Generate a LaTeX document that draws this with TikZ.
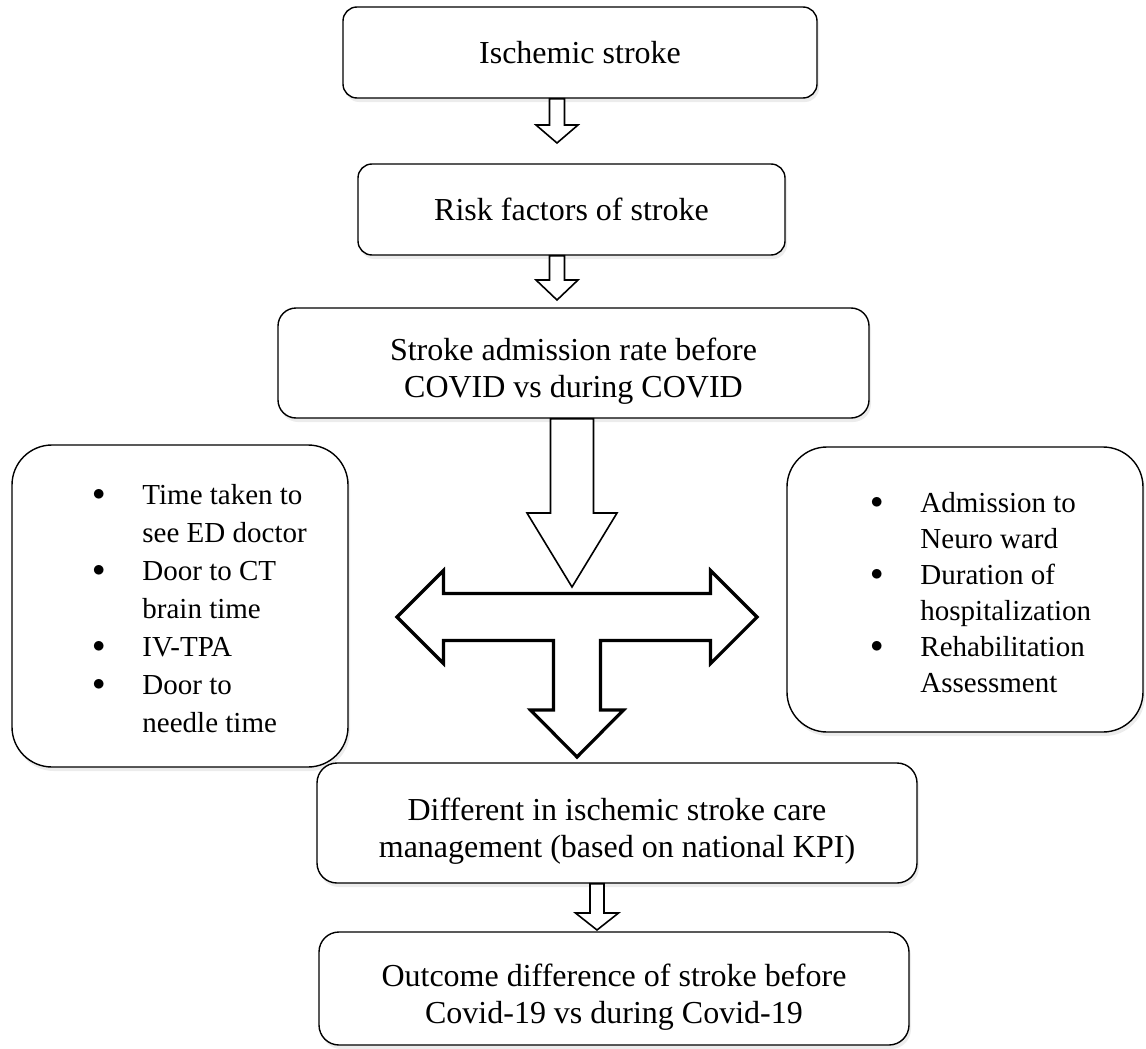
\documentclass[tikz,border=0pt]{standalone}
\usepackage{fontspec}
\setmainfont{Liberation Serif}
\usetikzlibrary{calc,shadows}

\newcommand{\bul}{\raisebox{4pt}{$\bullet$}}
% block arrow pointing down: top point, tip, shaft half width, head half width, head length
\newcommand{\blockdown}[5]{%
  \draw[arrowline] let \p1=(#1), \p2=(#2) in
    (\x1-#3,\y1) -- (\x1+#3,\y1) -- (\x1+#3,\y2+#5) -- (\x1+#4,\y2+#5)
    -- (\x2,\y2) -- (\x1-#4,\y2+#5) -- (\x1-#3,\y2+#5) -- cycle;}

\begin{document}
\begin{tikzpicture}[x=1pt,y=-1pt,
  box/.style={draw,fill=white,line width=1.4pt,rounded corners=14pt,align=center,
    font=\fontsize{32}{37}\selectfont,
    drop shadow={opacity=0.15,shadow xshift=2pt,shadow yshift=-4pt}},
  twoline/.style={box,rounded corners=20pt,text height=76pt},
  listbox/.style={box,rounded corners=40pt},
  listtext/.style={anchor=west,inner sep=0pt,font=\fontsize{29}{38}\selectfont},
  arrowline/.style={draw,fill=white,line width=1.6pt}]
\useasboundingbox (0,0) rectangle (1146,1049);

\node[box,minimum width=474pt,minimum height=91pt] (isch) at (580,52.5) {Ischemic stroke};
\node[box,minimum width=427pt,minimum height=91pt] (risk) at (571.5,209.5) {Risk factors of stroke};
\node[twoline,rounded corners=18pt,minimum width=591pt,minimum height=110pt] (admit) at (573.5,363)
  {Stroke admission rate before\\COVID vs during COVID};

\node[listbox,minimum width=336pt,minimum height=322pt] (edbox) at (180,606) {};
\node[listtext] (edlist) at ([shift={(81,5)}]edbox.west) {%
  \begin{tabular}{@{}c@{\hspace{37.5pt}}l@{}}
  \bul & Time taken to\\
       & see ED doctor\\
  \bul & Door to CT\\
       & brain time\\
  \bul & IV-TPA\\
  \bul & Door to\\
       & needle time
  \end{tabular}};

\node[listbox,minimum width=356pt,minimum height=285pt] (wardbox) at (965,589.5) {};
\node[listtext,font=\fontsize{29}{36}\selectfont] (wardlist) at ([shift={(84,6)}]wardbox.west) {%
  \begin{tabular}{@{}c@{\hspace{37.5pt}}l@{}}
  \bul & Admission to\\
       & Neuro ward\\
  \bul & Duration of\\
       & hospitalization\\
  \bul & Rehabilitation\\
       & Assessment
  \end{tabular}};

\node[twoline,minimum width=600pt,minimum height=120pt] (care) at (617,823)
  {Different in ischemic stroke care\\management (based on national KPI)};
\node[twoline,text height=77pt,minimum width=590pt,minimum height=113pt] (outcome) at (614,988.5)
  {Outcome difference of stroke before\\Covid-19 vs during Covid-19};

\coordinate (tipA) at (557,143);
\coordinate (tipB) at (557,300);
\coordinate (tipC) at (572,587);
\coordinate (tipD) at (597,930);
\coordinate (hub) at (577,617);

\blockdown{isch.south -| tipA}{tipA}{7.5pt}{21pt}{18pt}
\blockdown{risk.south -| tipB}{tipB}{7.5pt}{21pt}{20pt}
\blockdown{admit.south -| tipC}{tipC}{21.5pt}{45pt}{74pt}
\blockdown{care.south -| tipD}{tipD}{7pt}{21.5pt}{17pt}

\begin{scope}[shift={(hub)}]
\draw[arrowline,line width=3.2pt] (-133.5,-23.5) -- (133.5,-23.5) -- (133.5,-46.5) -- (180,0)
  -- (133.5,46.5) -- (133.5,23.5) -- (23.5,23.5) -- (23.5,93) -- (46.5,93) -- (0,140)
  -- (-46.5,93) -- (-23.5,93) -- (-23.5,23.5) -- (-133.5,23.5) -- (-133.5,46.5) -- (-180,0)
  -- (-133.5,-46.5) -- cycle;
\end{scope}
\end{tikzpicture}
\end{document}
